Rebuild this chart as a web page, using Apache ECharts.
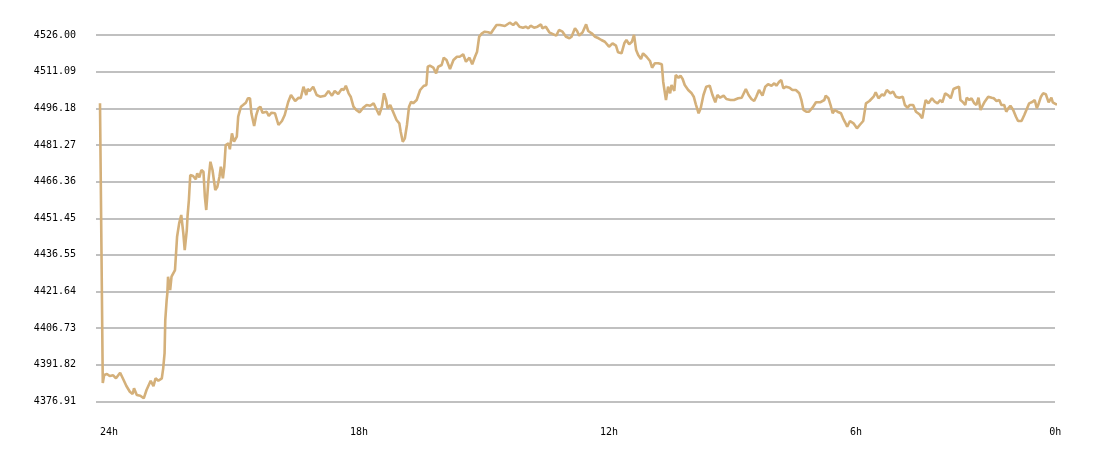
<!DOCTYPE html>
<html>
<head>
<meta charset="utf-8">
<script src="https://cdn.jsdelivr.net/npm/echarts@6.0.0/dist/echarts.min.js"></script>
<style>
  html, body { margin: 0; padding: 0; background: #fff; }
  #chart { width: 1100px; height: 458px; }
</style>
</head>
<body>
<div id="chart"></div>
<script>
// minutes elapsed since the "24h" mark
var minutes = [
    0, 1, 3, 4, 6, 10, 14, 19, 23, 29,
    34, 38, 43, 47, 49, 53, 58, 63, 67, 73,
    77, 80, 84, 89, 91, 93, 94, 96, 97, 98,
    101, 103, 108, 111, 114, 117, 120, 122, 125, 126,
    128, 130, 134, 138, 140, 143, 146, 149, 151, 153,
    156, 159, 162, 166, 169, 172, 174, 177, 179, 181,
    185, 187, 190, 193, 197, 199, 203, 206, 210, 213,
    216, 218, 222, 225, 228, 231, 234, 240, 243, 247,
    252, 257, 262, 266, 271, 275, 277, 281, 286, 289,
    293, 297, 299, 302, 307, 312, 317, 324, 329, 334,
    338, 343, 348, 351, 354, 358, 361, 365, 369, 374,
    379, 384, 389, 394, 397, 402, 406, 409, 412, 414,
    418, 422, 427, 431, 433, 436, 439, 442, 445, 448,
    451, 456, 461, 466, 470, 472, 475, 480, 484, 487,
    492, 495, 499, 504, 509, 514, 518, 523, 527, 532,
    536, 540, 543, 546, 550, 554, 559, 563, 566, 571,
    576, 583, 590, 595, 599, 604, 609, 613, 617, 620,
    625, 630, 635, 637, 642, 647, 653, 657, 661, 666,
    671, 676, 679, 684, 687, 690, 695, 700, 703, 708,
    713, 718, 722, 727, 733, 738, 743, 746, 751, 755,
    758, 762, 766, 769, 772, 775, 779, 782, 787, 792,
    795, 799, 804, 809, 811, 815, 818, 821, 823, 827,
    829, 833, 836, 839, 842, 847, 852, 855, 858, 862,
    865, 869, 873, 878, 882, 886, 889, 893, 898, 902,
    908, 913, 919, 924, 930, 934, 938, 942, 945, 949,
    954, 958, 962, 967, 971, 974, 978, 981, 984, 988,
    993, 997, 1002, 1007, 1010, 1013, 1017, 1021, 1026, 1031,
    1037, 1043, 1045, 1049, 1052, 1055, 1058, 1062, 1067, 1070,
    1073, 1076, 1080, 1085, 1090, 1094, 1099, 1103, 1108, 1114,
    1117, 1121, 1126, 1129, 1133, 1138, 1142, 1146, 1151, 1156,
    1159, 1163, 1166, 1171, 1175, 1180, 1184, 1187, 1189, 1193,
    1198, 1202, 1206, 1210, 1213, 1217, 1222, 1225, 1229, 1233,
    1237, 1239, 1242, 1246, 1248, 1252, 1255, 1259, 1262, 1265,
    1268, 1271, 1274, 1279, 1284, 1287, 1291, 1295, 1298, 1302,
    1305, 1308, 1311, 1315, 1319, 1322, 1327, 1331, 1334, 1338,
    1343, 1346, 1349, 1351, 1355, 1358, 1362, 1366, 1370, 1372,
    1377, 1381, 1383
];

var prices = [
    4498.21, 4469.86, 4412.90, 4384.42, 4387.68, 4388.08, 4387.27, 4387.56, 4386.34, 4388.61,
    4385.64, 4383.20, 4380.88, 4379.95, 4382.27, 4379.54, 4379.26, 4378.20, 4381.58, 4385.36,
    4383.20, 4386.34, 4385.36, 4386.34, 4390.40, 4396.63, 4410.05, 4418.19, 4421.04, 4427.67,
    4422.26, 4427.67, 4430.39, 4443.94, 4449.39, 4452.77, 4445.33, 4438.53, 4446.67, 4452.08,
    4458.87, 4469.04, 4468.64, 4467.29, 4469.74, 4468.11, 4471.08, 4470.39, 4460.22, 4454.80,
    4466.32, 4474.45, 4471.08, 4462.94, 4464.28, 4468.35, 4472.42, 4467.70, 4472.42, 4481.25,
    4481.94, 4479.50, 4486.01, 4482.59, 4484.63, 4492.76, 4496.83, 4497.52, 4498.46, 4500.25,
    4500.25, 4494.15, 4488.98, 4493.45, 4496.18, 4496.83, 4494.39, 4494.80, 4493.05, 4494.39,
    4494.15, 4489.39, 4491.01, 4493.45, 4498.74, 4501.59, 4500.90, 4499.15, 4500.49, 4500.25,
    4504.97, 4501.59, 4504.03, 4503.22, 4504.97, 4501.59, 4500.90, 4501.31, 4503.22, 4501.31,
    4503.22, 4502.00, 4504.03, 4503.62, 4505.37, 4502.28, 4500.90, 4496.83, 4495.49, 4494.55,
    4496.42, 4497.52, 4497.24, 4498.21, 4496.42, 4493.45, 4496.83, 4502.28, 4499.56, 4496.18,
    4497.52, 4494.80, 4491.42, 4490.08, 4486.66, 4482.59, 4483.97, 4489.39, 4496.83, 4498.86,
    4498.21, 4499.56, 4503.62, 4505.25, 4505.66, 4513.10, 4513.51, 4512.70, 4510.42, 4513.10,
    4513.80, 4516.76, 4515.83, 4512.17, 4515.83, 4517.17, 4517.17, 4518.15, 4515.14, 4516.76,
    4514.08, 4517.17, 4519.21, 4525.31, 4526.69, 4527.34, 4527.10, 4526.69, 4528.03, 4530.07,
    4530.07, 4529.66, 4531.00, 4530.07, 4531.17, 4529.38, 4528.97, 4529.38, 4528.73, 4529.78,
    4528.97, 4529.38, 4530.35, 4528.73, 4529.38, 4527.10, 4526.28, 4525.72, 4528.03, 4527.34,
    4525.31, 4524.66, 4525.31, 4528.73, 4527.63, 4525.72, 4527.10, 4530.35, 4527.63, 4526.69,
    4525.31, 4524.66, 4523.97, 4523.27, 4521.24, 4522.62, 4521.65, 4518.96, 4518.55, 4522.62,
    4523.97, 4522.22, 4523.27, 4526.00, 4519.90, 4517.86, 4516.24, 4518.55, 4517.17, 4515.42,
    4512.70, 4514.49, 4514.49, 4514.08, 4507.00, 4499.56, 4504.97, 4502.28, 4505.66, 4503.22,
    4509.73, 4508.63, 4509.44, 4508.10, 4505.66, 4503.62, 4502.28, 4500.90, 4497.81, 4494.15,
    4496.18, 4501.59, 4504.97, 4505.37, 4501.59, 4498.62, 4501.59, 4500.49, 4501.31, 4499.96,
    4499.56, 4499.56, 4500.25, 4500.49, 4504.03, 4501.59, 4499.96, 4499.15, 4500.90, 4503.62,
    4501.31, 4504.97, 4505.94, 4505.37, 4506.35, 4505.37, 4507.00, 4507.69, 4504.32, 4504.97,
    4504.56, 4503.62, 4503.62, 4502.28, 4499.56, 4495.49, 4494.80, 4494.80, 4496.42, 4498.62,
    4498.62, 4499.56, 4501.31, 4500.25, 4497.52, 4494.15, 4495.49, 4494.80, 4494.15, 4492.11,
    4490.48, 4488.69, 4491.01, 4490.08, 4488.04, 4489.39, 4491.01, 4498.21, 4499.15, 4500.90,
    4502.69, 4500.25, 4501.88, 4501.31, 4503.62, 4502.28, 4502.93, 4500.90, 4500.49, 4500.90,
    4497.52, 4496.42, 4497.52, 4497.52, 4494.80, 4493.74, 4492.11, 4496.83, 4499.56, 4498.21,
    4500.25, 4498.86, 4498.21, 4499.56, 4498.62, 4502.28, 4501.31, 4500.25, 4504.03, 4504.56,
    4504.97, 4499.56, 4498.86, 4497.52, 4500.49, 4499.56, 4500.25, 4498.21, 4497.52, 4500.49,
    4495.49, 4497.24, 4498.86, 4500.90, 4500.49, 4500.25, 4499.15, 4499.56, 4497.52, 4497.52,
    4494.80, 4496.18, 4497.24, 4495.49, 4492.76, 4491.01, 4491.01, 4493.45, 4495.49, 4498.21,
    4498.86, 4499.56, 4496.18, 4497.52, 4500.90, 4502.28, 4501.88, 4498.62, 4500.49, 4498.62,
    4497.81, 4497.81, 4498.21
];

var yTicks = [4376.91, 4391.82, 4406.73, 4421.64, 4436.55, 4451.45, 4466.36, 4481.27, 4496.18, 4511.09, 4526.00];
var xTickMinutes = [0, 360, 720, 1080, 1367];
var xTickLabels = ['24h', '18h', '12h', '6h', '0h'];

var chart = echarts.init(document.getElementById('chart'));

var lineData = [];
for (var i = 0; i < Math.min(minutes.length, prices.length); i++) {
    lineData.push([minutes[i], prices[i]]);
}

// small monospace labels like the original
var labelFont = {
    color: '#000',
    fontFamily: 'DejaVu Sans Mono',
    fontSize: 10
};

var option = {
    animation: false,
    grid: {
        left: 96,
        right: 45,
        top: 35,
        bottom: 56.5
    },
    xAxis: {
        type: 'value',
        min: -5.76,
        max: 1375.2,
        axisLine: {show: false},
        axisTick: {show: false},
        splitLine: {show: false},
        axisLabel: Object.assign({
            customValues: xTickMinutes,
            align: 'left',
            margin: 26,
            formatter: function (v) {
                var k = xTickMinutes.indexOf(v);
                return k >= 0 ? xTickLabels[k] : '';
            }
        }, labelFont)
    },
    yAxis: {
        type: 'value',
        min: yTicks[0],
        max: yTicks[yTicks.length - 1],
        axisLine: {show: false},
        axisTick: {show: false, customValues: yTicks},
        splitLine: {
            show: true,
            lineStyle: {color: '#c0c0c0', width: 2}
        },
        axisLabel: Object.assign({
            customValues: yTicks,
            margin: 20,
            formatter: function (v) { return v.toFixed(2); }
        }, labelFont)
    },
    series: [{
        type: 'line',
        data: lineData,
        showSymbol: false,
        clip: false,
        lineStyle: {color: '#d4b07a', width: 2.6},
        itemStyle: {color: '#d4b07a'}
    }]
};

chart.setOption(option);
</script>
</body>
</html>
